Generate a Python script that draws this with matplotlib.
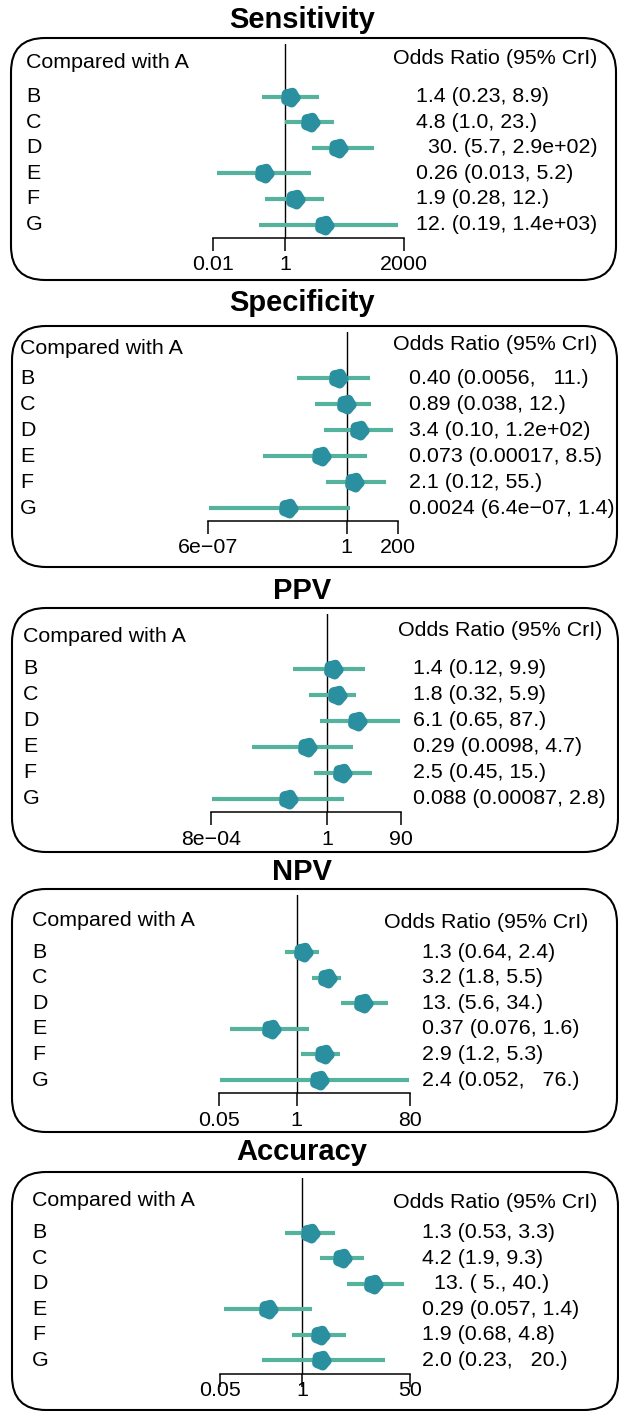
import numpy as np
import matplotlib
matplotlib.use("Agg")
import matplotlib.pyplot as plt
from matplotlib.patches import FancyBboxPatch
from matplotlib.path import Path

plt.rcParams['font.family'] = ['Liberation Sans', 'DejaVu Sans']

W, H = 619, 1411
DPI = 100

# ---------------- data ----------------
row_labels = ["B", "C", "D", "E", "F", "G"]
titles = ["Sensitivity", "Specificity", "PPV", "NPV", "Accuracy"]

sens_or = [1.4, 4.8, 30, 0.26, 1.9, 12]
sens_lo = [0.23, 1.0, 5.7, 0.013, 0.28, 0.19]
sens_hi = [8.9, 23, 290, 5.2, 12, 1400]
sens_txt = ["1.4 (0.23, 8.9)", "4.8 (1.0, 23.)", "  30. (5.7, 2.9e+02)",
            "0.26 (0.013, 5.2)", "1.9 (0.28, 12.)", "12. (0.19, 1.4e+03)"]
sens_ticks = [0.01, 1, 2000]
sens_ticklabels = ["0.01", "1", "2000"]

spec_or = [0.40, 0.89, 3.4, 0.073, 2.1, 0.0024]
spec_lo = [0.0056, 0.038, 0.10, 0.00017, 0.12, 6.4e-07]
spec_hi = [11, 12, 120, 8.5, 55, 1.4]
spec_txt = ["0.40 (0.0056,   11.)", "0.89 (0.038, 12.)", "3.4 (0.10, 1.2e+02)",
            "0.073 (0.00017, 8.5)", "2.1 (0.12, 55.)", "0.0024 (6.4e\u221207, 1.4)"]
spec_ticks = [6e-07, 1, 200]
spec_ticklabels = ["6e\u221207", "1", "200"]

ppv_or = [1.4, 1.8, 6.1, 0.29, 2.5, 0.088]
ppv_lo = [0.12, 0.32, 0.65, 0.0098, 0.45, 0.00087]
ppv_hi = [9.9, 5.9, 87, 4.7, 15, 2.8]
ppv_txt = ["1.4 (0.12, 9.9)", "1.8 (0.32, 5.9)", "6.1 (0.65, 87.)",
           "0.29 (0.0098, 4.7)", "2.5 (0.45, 15.)", "0.088 (0.00087, 2.8)"]
ppv_ticks = [8e-04, 1, 90]
ppv_ticklabels = ["8e\u221204", "1", "90"]

npv_or = [1.3, 3.2, 13, 0.37, 2.9, 2.4]
npv_lo = [0.64, 1.8, 5.6, 0.076, 1.2, 0.052]
npv_hi = [2.4, 5.5, 34, 1.6, 5.3, 76]
npv_txt = ["1.3 (0.64, 2.4)", "3.2 (1.8, 5.5)", "13. (5.6, 34.)",
           "0.37 (0.076, 1.6)", "2.9 (1.2, 5.3)", "2.4 (0.052,   76.)"]
npv_ticks = [0.05, 1, 80]
npv_ticklabels = ["0.05", "1", "80"]

acc_or = [1.3, 4.2, 13, 0.29, 1.9, 2.0]
acc_lo = [0.53, 1.9, 5, 0.057, 0.68, 0.23]
acc_hi = [3.3, 9.3, 40, 1.4, 4.8, 20]
acc_txt = ["1.3 (0.53, 3.3)", "4.2 (1.9, 9.3)", "  13. ( 5., 40.)",
           "0.29 (0.057, 1.4)", "1.9 (0.68, 4.8)", "2.0 (0.23,   20.)"]
acc_ticks = [0.05, 1, 50]
acc_ticklabels = ["0.05", "1", "50"]

panels = [
    (sens_or, sens_lo, sens_hi, sens_txt, sens_ticks, sens_ticklabels),
    (spec_or, spec_lo, spec_hi, spec_txt, spec_ticks, spec_ticklabels),
    (ppv_or, ppv_lo, ppv_hi, ppv_txt, ppv_ticks, ppv_ticklabels),
    (npv_or, npv_lo, npv_hi, npv_txt, npv_ticks, npv_ticklabels),
    (acc_or, acc_lo, acc_hi, acc_txt, acc_ticks, acc_ticklabels),
]

# ---------------- layout (pixels) ----------------
layout = [
    dict(title_y=20, box=(11, 38, 616, 280), rowB=96.5, step=25.6, axis_y=238, tx=(213, 404), lab_x=26, txt_x=416, comp_y=63, odds_y=58, odds_r=597, tl_y=263),
    dict(title_y=303, box=(12, 326, 617, 567), rowB=378, step=26.0, axis_y=521, tx=(208, 398), lab_x=20, txt_x=409, comp_y=348, odds_y=345, odds_r=597, tl_y=546),
    dict(title_y=591, box=(12, 608, 618, 852), rowB=669, step=26.0, axis_y=812, tx=(211, 401), lab_x=23, txt_x=413, comp_y=637, odds_y=630, odds_r=602, tl_y=838),
    dict(title_y=872, box=(12, 889, 617, 1132), rowB=952, step=25.6, axis_y=1093, tx=(219, 410), lab_x=32, txt_x=422, comp_y=920, odds_y=922, odds_r=588, tl_y=1119),
    dict(title_y=1152, box=(12, 1172, 618, 1410), rowB=1233, step=25.4, axis_y=1374, tx=(220, 410), lab_x=32, txt_x=422, comp_y=1201, odds_y=1202, odds_r=597, tl_y=1389),
]
title_x = 302

line_col = "#55B39D"
pt_col = "#2A8F9E"
FS = 15.4

# blob-like marker with a slightly scalloped outline
th = np.linspace(0, 2 * np.pi, 181)
r = 1 + 0.06 * np.cos(5 * th + 0.4)
verts = np.column_stack([r * np.cos(th), r * np.sin(th)])
codes = [Path.MOVETO] + [Path.LINETO] * (len(verts) - 2) + [Path.CLOSEPOLY]
blob = Path(verts, codes)

fig = plt.figure(figsize=(W / DPI, H / DPI), dpi=DPI)
bg = fig.add_axes([0, 0, 1, 1])
bg.set_xlim(0, W)
bg.set_ylim(H, 0)
bg.axis("off")


def fx(x):
    return x / W


def fy(y):
    return 1 - y / H


for (orv, lo, hi, txt, ticks, ticklabels), L, title in zip(panels, layout, titles):
    x0, y0, x1, y1 = L["box"]
    box = FancyBboxPatch((x0, y0), x1 - x0, y1 - y0,
                         boxstyle="round,pad=0,rounding_size=34",
                         fc="none", ec="black", lw=1.5, zorder=1)
    bg.add_patch(box)
    bg.text(title_x, L["title_y"], title, ha="center", va="center",
            fontsize=21, fontweight="bold")
    bg.text(L["lab_x"], L["comp_y"], "Compared with A", ha="left", va="center", fontsize=FS)
    bg.text(L["odds_r"], L["odds_y"], "Odds Ratio (95% CrI)", ha="right", va="center", fontsize=FS)

    ref_top = y0 + 6
    axy = L["axis_y"]
    tl, tr = L["tx"]
    ax = fig.add_axes([fx(tl), fy(axy), fx(tr) - fx(tl), (axy - ref_top) / H])
    ax.patch.set_alpha(0)
    ax.set_xscale("log")
    ax.set_xlim(ticks[0], ticks[-1])
    step = L["step"]
    ax.set_ylim((axy - L["rowB"]) / step, (ref_top - L["rowB"]) / step)
    for s in ["top", "left", "right"]:
        ax.spines[s].set_visible(False)
    ax.spines["bottom"].set_linewidth(1.1)
    ax.set_yticks([])
    ax.set_xticks(ticks)
    ax.set_xticklabels(ticklabels, fontsize=FS)
    ax.xaxis.set_minor_locator(matplotlib.ticker.NullLocator())
    lab_off = (L["tl_y"] - axy) - 9 - 11.5
    ax.tick_params(axis="x", length=9, width=1.1, pad=lab_off * 72 / DPI)

    ax.axvline(ticks[1], color="black", lw=1.0, zorder=1)
    ypos = np.arange(len(row_labels))
    ax.hlines(ypos, lo, hi, color=line_col, lw=3.0, zorder=2, clip_on=False)
    ax.plot(orv, ypos, linestyle="none", marker=blob, markersize=13.5,
            color=pt_col, mec=pt_col, zorder=3, clip_on=False)

    for k, (lab, t) in enumerate(zip(row_labels, txt)):
        yk = L["rowB"] + k * step
        bg.text(L["lab_x"], yk, lab, ha="left", va="center", fontsize=FS)
        bg.text(L["txt_x"], yk, t, ha="left", va="center", fontsize=FS)

fig.savefig("out.png", dpi=DPI)
